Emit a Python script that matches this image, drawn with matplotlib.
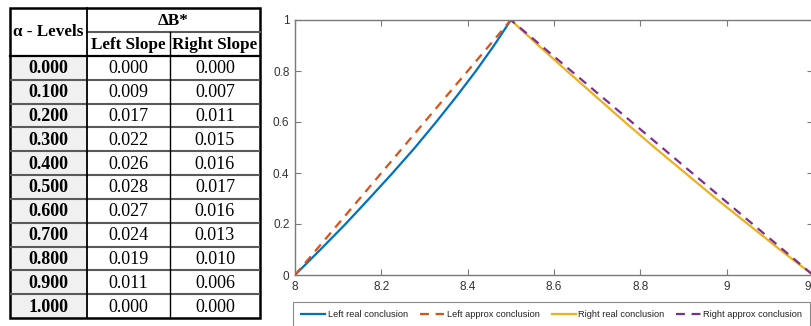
import matplotlib.pyplot as plt
from matplotlib.patches import Rectangle

# table values
alpha_levels = ["0.000", "0.100", "0.200", "0.300", "0.400", "0.500",
                "0.600", "0.700", "0.800", "0.900", "1.000"]
left_slope = ["0.000", "0.009", "0.017", "0.022", "0.026", "0.028",
              "0.027", "0.024", "0.019", "0.011", "0.000"]
right_slope = ["0.000", "0.007", "0.011", "0.015", "0.016", "0.017",
               "0.016", "0.013", "0.010", "0.006", "0.000"]

# membership curves (y = alpha)
alpha = [0.0, 0.1, 0.2, 0.3, 0.4, 0.5, 0.6, 0.7, 0.8, 0.9, 1.0]
left_real = [8.000, 8.059, 8.117, 8.172, 8.226, 8.278, 8.327, 8.374, 8.419, 8.461, 8.500]
left_approx = [8.00, 8.05, 8.10, 8.15, 8.20, 8.25, 8.30, 8.35, 8.40, 8.45, 8.50]
right_real = [9.200, 9.123, 9.049, 8.975, 8.904, 8.833, 8.764, 8.697, 8.630, 8.564, 8.500]
right_approx = [9.20, 9.13, 9.06, 8.99, 8.92, 8.85, 8.78, 8.71, 8.64, 8.57, 8.50]

W, H = 812, 326
fig = plt.figure(figsize=(W / 100, H / 100), dpi=100)

# ---- table drawn in pixel coordinates ----
tab = fig.add_axes([0, 0, 1, 1])
tab.set_xlim(0, W)
tab.set_ylim(H, 0)
tab.axis("off")

x0, x1, x2, x3 = 10, 87, 170, 260
y0, ymid, yh, yend = 8, 32, 56, 318
rh = (yend - yh) / len(alpha_levels)
serif = "Liberation Serif"
fs_head = 12.3
fs = 13

# grey fill for first column
tab.add_patch(Rectangle((x0, yh), x1 - x0, yend - yh, facecolor="#f0f0f0", edgecolor="none"))

# row separators
for i in range(1, len(alpha_levels)):
    y = yh + i * rh
    tab.plot([x0, x3], [y, y], color="#5a5a5a", lw=1.5, solid_capstyle="butt")
tab.plot([x1, x3], [ymid, ymid], color="#5a5a5a", lw=1.5)
tab.plot([x0, x3], [yh, yh], color="black", lw=1.6)
tab.plot([x1, x1], [y0, yend], color="black", lw=1.3)
tab.plot([x2, x2], [ymid, yend], color="black", lw=1.0)
tab.add_patch(Rectangle((x0, y0), x3 - x0, yend - y0, facecolor="none", edgecolor="black", lw=1.8))

tab.text((x0 + x1) / 2, (y0 + yh) / 2, "α - Levels", ha="center", va="center",
         fontsize=fs_head, fontweight="bold", family=serif)
tab.text((x1 + x3) / 2, (y0 + ymid) / 2 + 1, "ΔB*", ha="center", va="center",
         fontsize=fs_head, fontweight="bold", family=serif)
tab.text((x1 + x2) / 2, (ymid + yh) / 2 + 1, "Left Slope", ha="center", va="center",
         fontsize=fs_head, fontweight="bold", family=serif)
tab.text((x2 + x3) / 2, (ymid + yh) / 2 + 1, "Right Slope", ha="center", va="center",
         fontsize=fs_head, fontweight="bold", family=serif)

for i, (a, l, r) in enumerate(zip(alpha_levels, left_slope, right_slope)):
    yc = yh + (i + 0.5) * rh + 1
    tab.text((x0 + x1) / 2, yc, a, ha="center", va="center", fontsize=fs,
             fontweight="bold", family=serif)
    tab.text((x1 + x2) / 2, yc, l, ha="center", va="center", fontsize=fs, family=serif)
    tab.text((x2 + x3) / 2, yc, r, ha="center", va="center", fontsize=fs, family=serif)

# ---- chart ----
sans = "Liberation Sans"
ax = fig.add_axes([295 / W, 1 - 275 / H, 518 / W, 255 / H])
ax.plot(left_real, alpha, color="#0072BD", lw=1.6, label="Left real conclusion")
ax.plot(left_approx, alpha, color="#D95319", lw=1.6, ls=(0, (4, 3)), label="Left approx conclusion")
ax.plot(right_real, alpha, color="#EDB120", lw=1.6, label="Right real conclusion")
ax.plot(right_approx, alpha, color="#7E2F8E", lw=1.6, ls=(0, (4, 3)), label="Right approx conclusion")

ax.set_xlim(8, 9.2)
ax.set_ylim(0, 1)
ax.set_xticks([8, 8.2, 8.4, 8.6, 8.8, 9, 9.2])
ax.set_xticklabels(["8", "8.2", "8.4", "8.6", "8.8", "9", "9.2"])
ax.set_yticks([0, 0.2, 0.4, 0.6, 0.8, 1])
ax.set_yticklabels(["0", "0.2", "0.4", "0.6", "0.8", "1"])
ax.tick_params(direction="in", top=True, right=True, length=4, width=0.8,
               colors="#7a7a7a", labelcolor="#333333", labelsize=8.5, pad=4)
for lab in ax.get_xticklabels() + ax.get_yticklabels():
    lab.set_family(sans)
for s in ax.spines.values():
    s.set_color("#7a7a7a")
    s.set_linewidth(1.0)

leg = ax.legend(loc="upper left", bbox_to_anchor=(-0.004, -0.105), ncol=4, frameon=True,
                fancybox=False, edgecolor="#6e6e6e", prop={"family": sans, "size": 6.7},
                handlelength=2.6, handletextpad=0.25, columnspacing=1.3,
                borderpad=0.9, borderaxespad=0)
leg.get_frame().set_linewidth(0.8)
for t in leg.get_texts():
    t.set_color("#222222")

fig.savefig("out.png", dpi=100)
